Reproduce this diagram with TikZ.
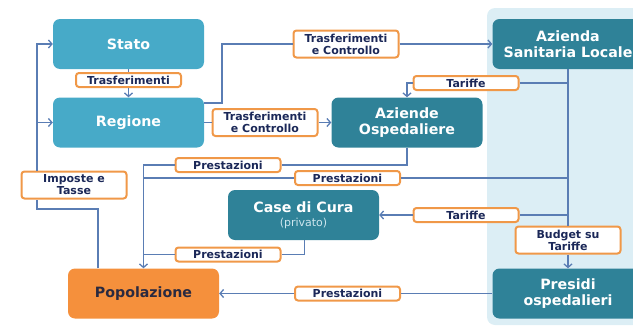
\documentclass[tikz,border=0pt]{standalone}
\usepackage{fontspec}
\setmainfont{DejaVu Sans}
\usetikzlibrary{arrows.meta}
\definecolor{boxA}{HTML}{47AAC8}
\definecolor{boxB}{HTML}{2F8298}
\definecolor{orng}{HTML}{F5903C}
\definecolor{lbord}{HTML}{F09848}
\definecolor{panel}{HTML}{DCEEF5}
\definecolor{connc}{HTML}{5A7DB4}
\definecolor{navy}{HTML}{1B2858}
\definecolor{popt}{HTML}{2A2A40}
\definecolor{privc}{HTML}{CDE6EE}
\begin{document}
\begin{tikzpicture}[x=1pt,y=-1pt,
  ent/.style={rounded corners=7pt, minimum width=151pt, minimum height=50pt, inner sep=0pt, align=center, text=white, font=\fontsize{14.2}{16.5}\selectfont\bfseries},
  entA/.style={ent, fill=boxA},
  entB/.style={ent, fill=boxB},
  lab/.style={draw=lbord, line width=2pt, fill=white, rounded corners=3pt, minimum width=105pt, minimum height=14pt, inner sep=0pt, align=center, text=navy, font=\fontsize{11}{12}\selectfont\bfseries},
  lab2/.style={lab, minimum height=27pt},
  conn/.style={draw=connc, line width=1.3pt},
  arr/.style={conn, -{Straight Barb[length=3.5pt,width=8pt]}}
]
\useasboundingbox (0,0) rectangle (633,327);
\fill[panel, rounded corners=8pt] (487,8) rectangle (660,325);

% entities
\node[entA] (Stato) at (128.5,44) {Stato};
\node[entA] (Regione) at (128.5,122.5) {Regione};
\node[entB] (ASL) at (568,44) {Azienda\\Sanitaria Locale};
\node[entB] (AO) at (407,122.5) {Aziende\\Ospedaliere};
\node[entB] (Case) at (303.5,215) {Case di Cura\\[-3pt]{\fontsize{11}{12}\selectfont\mdseries\color{privc}(privato)}};
\node[entB] (Presidi) at (568,293.5) {Presidi\\ospedalieri};
\node[ent, fill=orng, text=popt] (Pop) at (143.5,293.5) {Popolazione};

% labels
\node[lab] (Ltr) at (128.5,80) {Trasferimenti};
\node[lab2] (Ltc1) at (346,44) {Trasferimenti\\e Controllo};
\node[lab2] (Ltc2) at (265,122.5) {Trasferimenti\\e Controllo};
\node[lab] (Ltar1) at (466,83) {Tariffe};
\node[lab] (Lp1) at (228,165) {Prestazioni};
\node[lab] (Lp2) at (347.5,178) {Prestazioni};
\node[lab] (Ltar2) at (466,215) {Tariffe};
\node[lab2] (Lbud) at (568,240) {Budget su\\Tariffe};
\node[lab] (Lp3) at (228,254.5) {Prestazioni};
\node[lab] (Lp4) at (347.5,293.5) {Prestazioni};
\node[lab2] (Limp) at (74,185) {Imposte e\\Tasse};

% helper coordinates
\coordinate (b1) at (37,209);
\coordinate (c1) at (222,44);

% connectors
\draw[conn] (Stato.south) -- (Ltr.north);
\draw[arr] (Ltr.south) -- (Regione.north);

\draw[conn] ([xshift=-45.5pt]Pop.north) |- (b1) -- (b1 |- Limp.south);
\draw[arr] (b1 |- Limp.north) |- (Stato.west);
\draw[arr] (b1 |- Regione.west) -- (Regione.west);

\draw[conn] ([yshift=19.5pt]Regione.east) -| (c1) -- (Ltc1.west);
\draw[arr] (Ltc1.east) -- (ASL.west);

\draw[conn] (Regione.east) -- (Ltc2.west);
\draw[arr] (Ltc2.east) -- (AO.west);

\draw[conn] (ASL.south) -- (Lbud.north);
\draw[arr] (Lbud.south) -- (Presidi.north);

\draw[conn] (ASL.south |- Ltar1.east) -- (Ltar1.east);
\draw[arr] (Ltar1.west) -| (AO.north);

\draw[conn] (ASL.south |- Ltar2.east) -- (Ltar2.east);
\draw[arr] (Ltar2.west) -- (Case.east);

\draw[conn] (AO.south) |- (Lp1.east);
\draw[arr] (Lp1.west) -| (Pop.north);

\draw[conn] (ASL.south |- Lp2.east) -- (Lp2.east);
\draw[conn] (Lp2.west) -- (Lp2.west -| Pop.north);

\draw[conn] ([xshift=1pt]Case.south) |- (Lp3.east);
\draw[conn] (Lp3.west) -- (Lp3.west -| Pop.north);

\draw[conn] (Presidi.west) -- (Lp4.east);
\draw[arr] (Lp4.west) -- (Pop.east);
\end{tikzpicture}
\end{document}
